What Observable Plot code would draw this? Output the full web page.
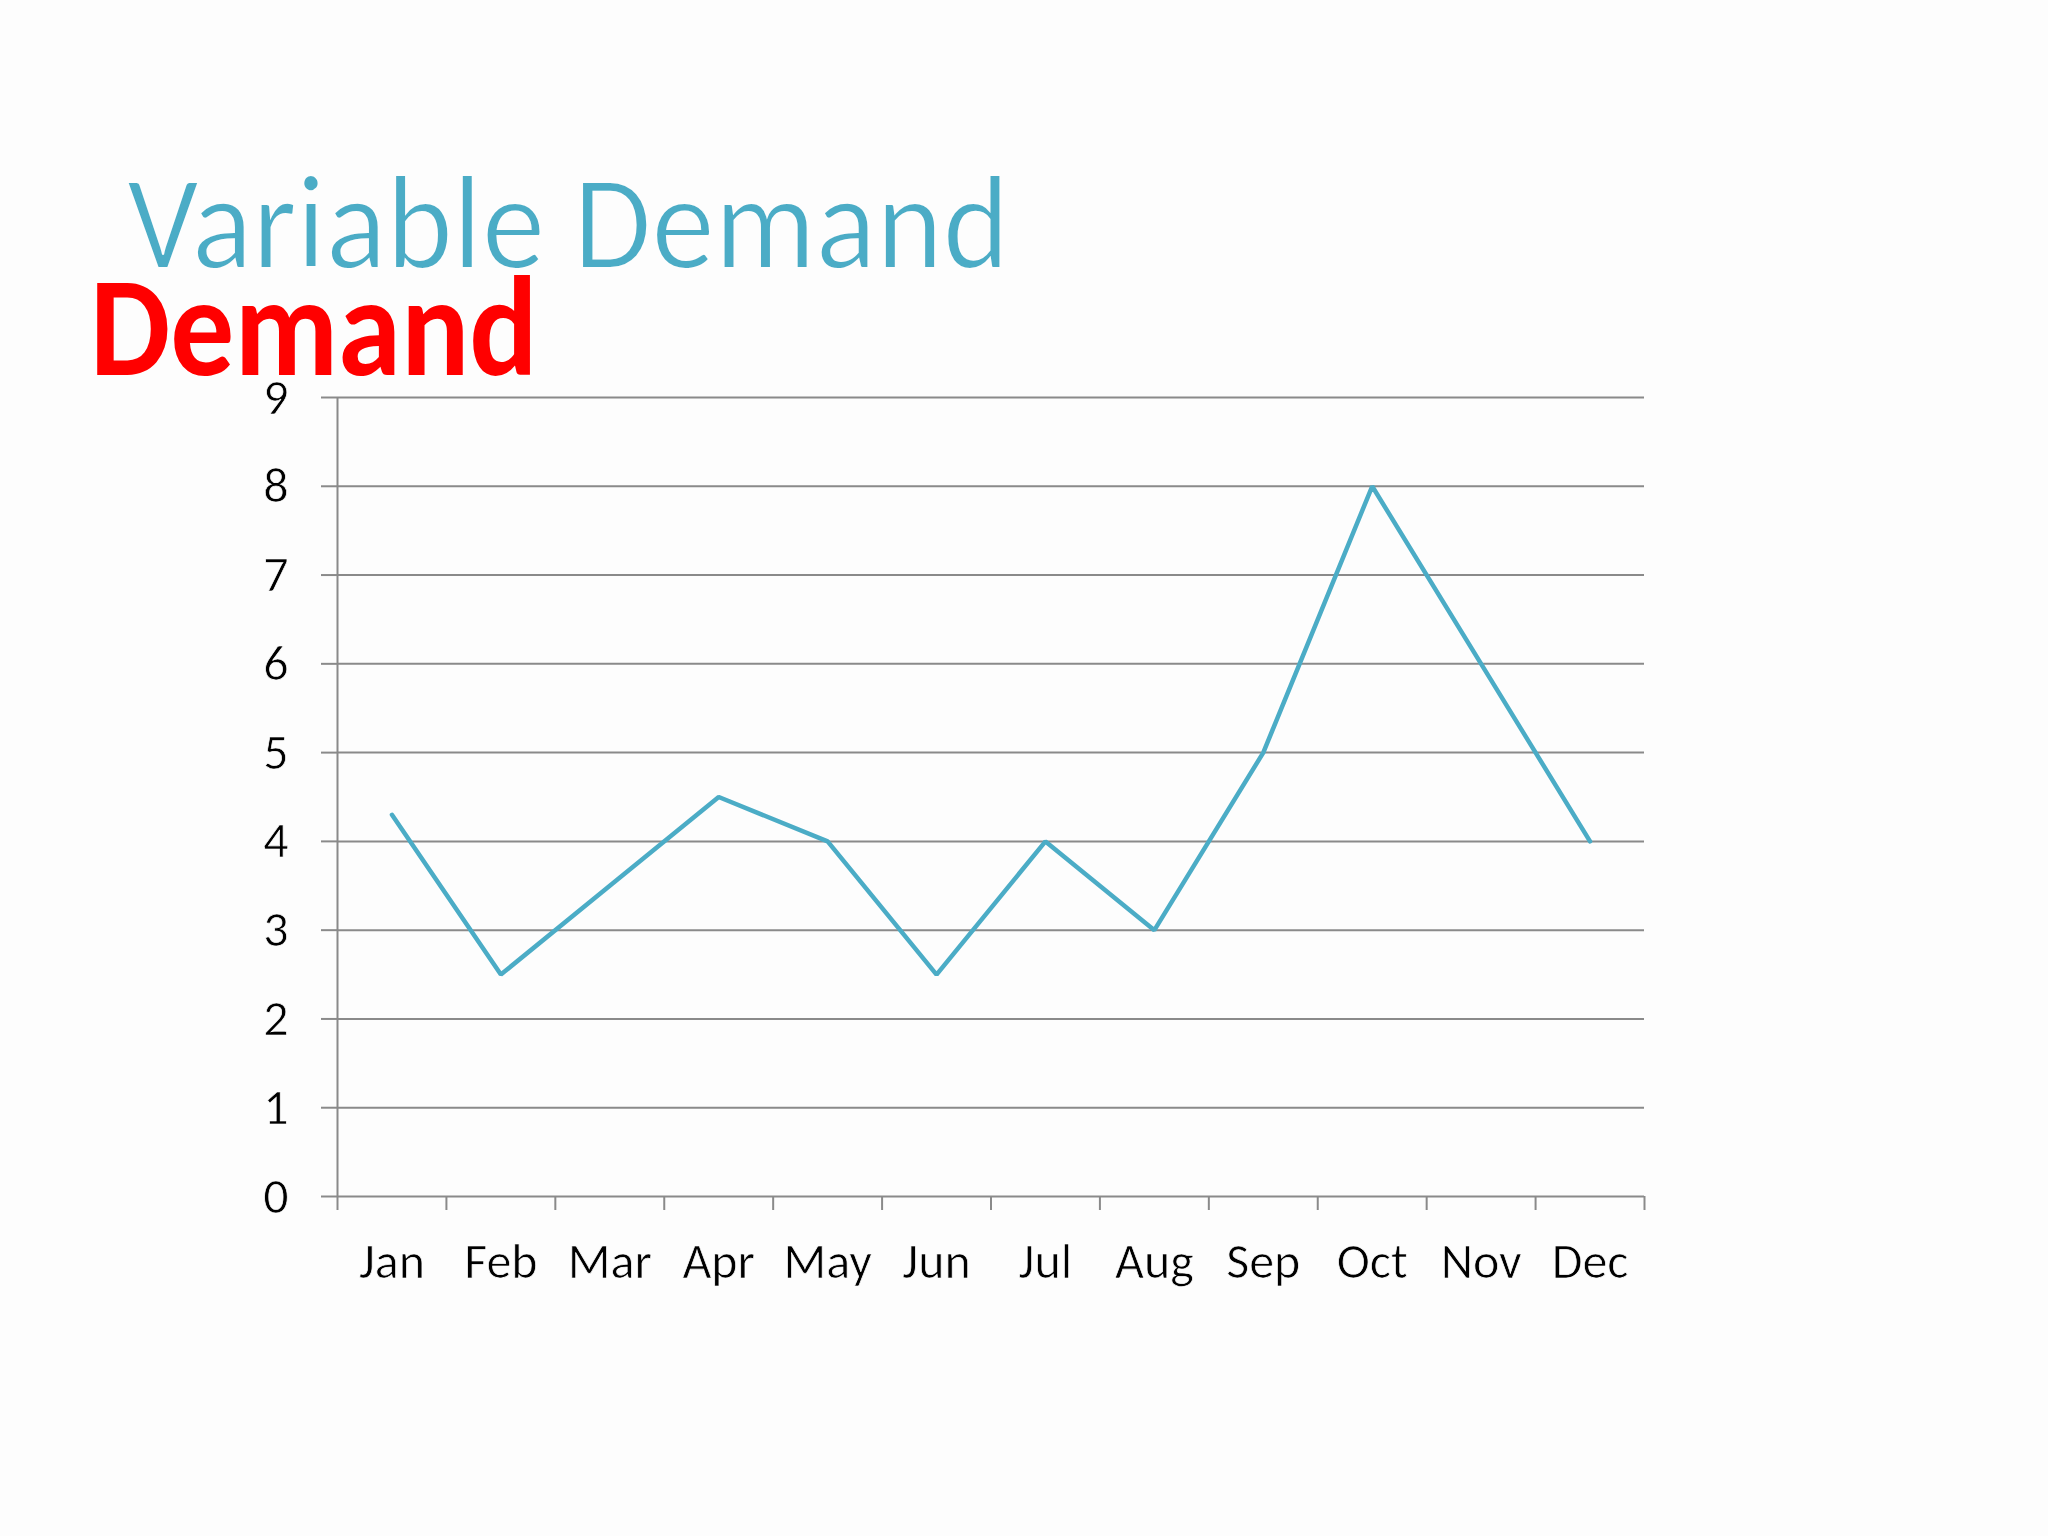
<!DOCTYPE html>
<html><head><meta charset="utf-8">
<script src="https://cdn.jsdelivr.net/npm/d3@7"></script>
<script src="https://cdn.jsdelivr.net/npm/@observablehq/plot@0.6"></script>
<style>
html,body{margin:0;padding:0;background:#fdfdfd;width:2048px;height:1536px;overflow:hidden}
#wrap{position:relative;width:2048px;height:1536px}
#title{position:absolute;left:127px;top:155px;font-family:Carlito,Lato;font-weight:400;font-size:134px;color:#4BACC6;line-height:1;white-space:nowrap;margin:0;transform:scaleX(0.945);transform-origin:0 0;-webkit-text-stroke:2px #fdfdfd}
#sub{position:absolute;left:90px;top:256px;font-family:Carlito,Lato;font-weight:700;font-size:142px;color:#FF0000;line-height:1;white-space:nowrap;margin:0;transform:scaleX(0.897);transform-origin:0 0}
#chart{position:absolute;left:0;top:0}
</style></head>
<body>
<div id="wrap">
<div id="chart"></div>
<h1 id="title">Variable Demand</h1>
<h2 id="sub">Demand</h2>
</div>
<script>
const months = ["Jan","Feb","Mar","Apr","May","Jun","Jul","Aug","Sep","Oct","Nov","Dec"];
const demand = [4.3, 2.5, 3.5, 4.5, 4, 2.5, 4, 3, 5, 8, 6, 4];
const yTicks = [0,1,2,3,4,5,6,7,8,9];

const data = months.map((m, i) => ({month: m, pos: i + 0.5, value: demand[i]}));
const edges = d3.range(months.length + 1);
const centers = months.map((m, i) => i + 0.5);

const chart = Plot.plot({
  width: 2048,
  height: 1536,
  marginLeft: 337,
  marginRight: 404,
  marginTop: 397,
  marginBottom: 340,
  style: {background: "transparent", fontFamily: "Carlito, Lato", fontWeight: 400, fontSize: "50px", color: "#000", overflow: "visible"},
  x: {domain: [0, months.length], axis: null, label: null},
  y: {domain: [0, 9], axis: null, label: null},
  marks: [
    Plot.ruleY(yTicks, {stroke: "#8a8a8a", strokeWidth: 2}),
    Plot.ruleX([0], {stroke: "#8a8a8a", strokeWidth: 2}),
    Plot.axisY({ticks: yTicks, label: null, tickSize: 16, tickPadding: 33, stroke: "#8a8a8a", strokeWidth: 2, fill: "#000", tickFormat: d => String(d)}),
    Plot.axisX({ticks: edges, label: null, tickSize: 14, stroke: "#8a8a8a", strokeWidth: 2, tickFormat: () => ""}),
    Plot.axisX({ticks: centers, label: null, tickSize: 0, tickPadding: 46, fill: "#000", tickFormat: d => months[Math.round(d - 0.5)]}),
    Plot.line(data, {x: "pos", y: "value", stroke: "#4BACC6", strokeWidth: 4.5, strokeLinejoin: "miter"})
  ]
});
// slightly lighter axis text, closer to a light face
chart.querySelectorAll('g[aria-label$="tick label"]').forEach(g => {
  g.setAttribute("stroke", "#fdfdfd");
  g.setAttribute("stroke-width", "0.7");
  g.setAttribute("paint-order", "fill");
});
document.getElementById("chart").appendChild(chart);
</script>
</body></html>
